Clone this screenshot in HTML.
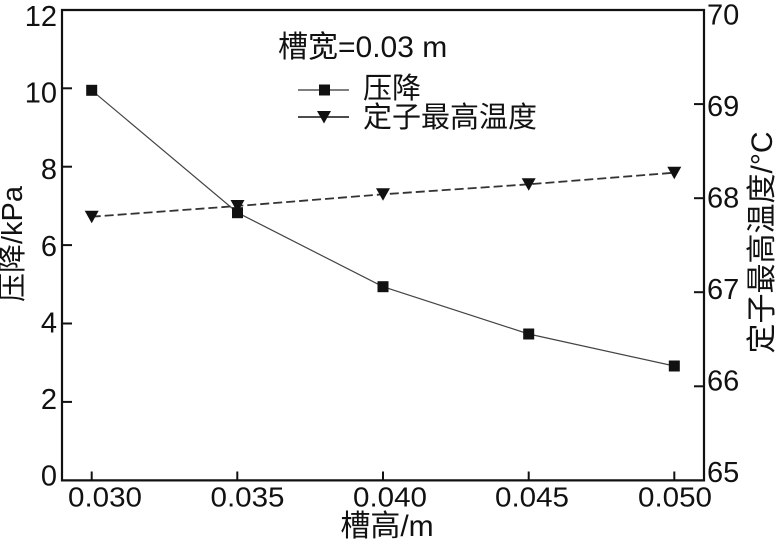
<!DOCTYPE html>
<html>
<head>
<meta charset="utf-8">
<style>
html,body{margin:0;padding:0;background:#fff;}
svg{display:block;}
.num{font-family:"Liberation Sans",Arial,sans-serif;font-size:29px;fill:#111;}
.cjk{font-family:"Liberation Sans","Noto Sans CJK SC",sans-serif;fill:#111;}
</style>
</head>
<body>
<svg width="775" height="540" viewBox="0 0 775 540" xmlns="http://www.w3.org/2000/svg">
  <rect width="775" height="540" fill="#fff"/>

  <path d="M62,10 L704,10 L704,480.4 L62,480.4 Z" fill="none" stroke="#111" stroke-width="2.2"/>

  <g stroke="#111" stroke-width="2">
    <line x1="62" y1="88.3" x2="72" y2="88.3"/>
    <line x1="62" y1="166.7" x2="72" y2="166.7"/>
    <line x1="62" y1="245.1" x2="72" y2="245.1"/>
    <line x1="62" y1="323.5" x2="72" y2="323.5"/>
    <line x1="62" y1="401.9" x2="72" y2="401.9"/>
  </g>
  <g stroke="#111" stroke-width="2">
    <line x1="694" y1="104.1" x2="704" y2="104.1"/>
    <line x1="694" y1="198.2" x2="704" y2="198.2"/>
    <line x1="694" y1="292.2" x2="704" y2="292.2"/>
    <line x1="694" y1="386.3" x2="704" y2="386.3"/>
  </g>
  <g stroke="#111" stroke-width="2">
    <line x1="91.7" y1="471.5" x2="91.7" y2="480"/>
    <line x1="237.3" y1="471.5" x2="237.3" y2="480"/>
    <line x1="383" y1="471.5" x2="383" y2="480"/>
    <line x1="528.7" y1="471.5" x2="528.7" y2="480"/>
    <line x1="674.3" y1="471.5" x2="674.3" y2="480"/>
  </g>

  <g class="num" text-anchor="end">
    <text x="57" y="26">12</text>
    <text x="57" y="102.6">10</text>
    <text x="57" y="179.2">8</text>
    <text x="57" y="255.8">6</text>
    <text x="57" y="332.4">4</text>
    <text x="57" y="409">2</text>
    <text x="57" y="485.6">0</text>
  </g>
  <g class="num" text-anchor="start">
    <text x="707" y="24.4">70</text>
    <text x="707" y="116">69</text>
    <text x="707" y="207.4">68</text>
    <text x="707" y="299">67</text>
    <text x="707" y="390.4">66</text>
    <text x="707" y="482">65</text>
  </g>
  <g class="num" text-anchor="middle" style="font-size:28px">
    <text x="105" y="506.5" textLength="74" lengthAdjust="spacingAndGlyphs">0.030</text>
    <text x="247.5" y="506.5" textLength="74" lengthAdjust="spacingAndGlyphs">0.035</text>
    <text x="390" y="506.5" textLength="74" lengthAdjust="spacingAndGlyphs">0.040</text>
    <text x="532" y="506.5" textLength="74" lengthAdjust="spacingAndGlyphs">0.045</text>
    <text x="675" y="506.5" textLength="74" lengthAdjust="spacingAndGlyphs">0.050</text>
  </g>

  <text class="cjk" x="387" y="536" text-anchor="middle" style="font-size:30px">槽高/m</text>
  <text class="cjk" transform="translate(22,244) rotate(-90)" text-anchor="middle" style="font-size:29px">压降/kPa</text>
  <text class="cjk" transform="translate(772,242.5) rotate(-90)" text-anchor="middle" style="font-size:30px">定子最高温度/°C</text>

  <polyline points="91.7,90.3 237.5,212.7 383,286.7 528.7,334 674.3,366" fill="none" stroke="#444" stroke-width="1.2"/>
  <g fill="#111">
    <rect x="86.2" y="84.8" width="11" height="11"/>
    <rect x="232" y="207.2" width="11" height="11"/>
    <rect x="377.5" y="281.2" width="11" height="11"/>
    <rect x="523.2" y="328.5" width="11" height="11"/>
    <rect x="668.8" y="360.5" width="11" height="11"/>
  </g>

  <polyline points="91.7,216.7 237.5,206 383,194.3 528.7,184.3 674.3,172.7" fill="none" stroke="#333" stroke-width="1.8" stroke-dasharray="9,4"/>
  <g fill="#111">
    <polygon points="84.7,210.7 98.7,210.7 91.7,223.2"/>
    <polygon points="230.5,200 244.5,200 237.5,212.5"/>
    <polygon points="376,188.3 390,188.3 383,200.8"/>
    <polygon points="521.7,178.3 535.7,178.3 528.7,190.8"/>
    <polygon points="667.3,166.7 681.3,166.7 674.3,179.2"/>
  </g>

  <text class="cjk" x="278" y="57" style="font-size:30px">槽宽=0.03 m</text>
  <line x1="298" y1="90" x2="349" y2="90" stroke="#333" stroke-width="1.3"/>
  <rect x="319" y="84.5" width="11" height="11" fill="#111"/>
  <text class="cjk" x="363" y="98" style="font-size:29px">压降</text>
  <line x1="298" y1="117" x2="349" y2="117" stroke="#333" stroke-width="1.8"/>
  <polygon points="317,111 331,111 324,123.5" fill="#111"/>
  <text class="cjk" x="363" y="127" style="font-size:29px">定子最高温度</text>
</svg>
</body>
</html>
